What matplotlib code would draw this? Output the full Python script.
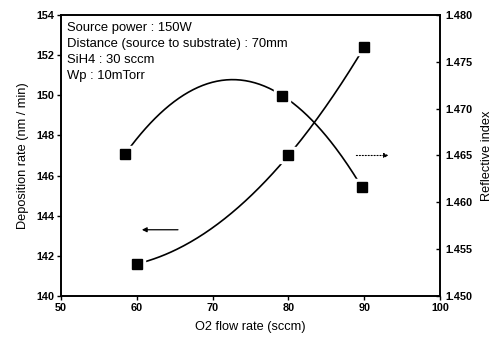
import matplotlib.pyplot as plt
import numpy as np

plt.rcParams['font.family'] = ['Liberation Sans', 'DejaVu Sans']

# deposition rate (left axis)
o2_dep = [60, 80, 90]
dep_rate = [141.6, 147.0, 152.4]

# reflective index (right axis)
o2_ri = [58.5, 79.2, 89.7]
ref_index = [1.4652, 1.4714, 1.4616]

notes = ["Source power : 150W",
         "Distance (source to substrate) : 70mm",
         "SiH4 : 30 sccm",
         "Wp : 10mTorr"]

fig = plt.figure(figsize=(4.99, 3.38), dpi=100)
ax = fig.add_axes([0.1222, 0.1243, 0.7596, 0.8313])
ax2 = ax.twinx()

def smooth(axis, xs, ys):
  # quadratic through the three points, like the origin spline
  c = np.polyfit(xs, ys, 2)
  xx = np.linspace(xs[0], xs[-1], 200)
  axis.plot(xx, np.polyval(c, xx), color='black', lw=1.2, zorder=2)
  axis.plot(xs, ys, 's', ms=11, color='white', mec='white', zorder=3)
  axis.plot(xs, ys, 's', ms=7.5, color='black', mec='black', zorder=4)

smooth(ax, o2_dep, dep_rate)
smooth(ax2, o2_ri, ref_index)

ax.set_xlim(50, 100)
ax.set_ylim(140, 154)
ax2.set_ylim(1.450, 1.480)
ax.set_xticks([50, 60, 70, 80, 90, 100])
ax.set_yticks(np.arange(140, 155, 2))
ax2.set_yticks([1.450, 1.455, 1.460, 1.465, 1.470, 1.475, 1.480])
ax2.set_yticklabels(['1.450', '1.455', '1.460', '1.465', '1.470', '1.475', '1.480'])

ax.tick_params(axis='both', direction='out', length=3, width=1, labelsize=7.8, pad=2)
ax2.tick_params(axis='y', direction='in', length=3, width=1, labelsize=7.8, pad=4)
for a in (ax, ax2):
  for s in a.spines.values():
    s.set_linewidth(1.2)
  for lab in a.get_xticklabels() + a.get_yticklabels():
    lab.set_fontweight('bold')

ax.set_xlabel('O2 flow rate (sccm)', fontsize=9.2, labelpad=6)
ax.set_ylabel('Deposition rate (nm / min)', fontsize=9.2, labelpad=5)
ax2.set_ylabel('Reflective index', fontsize=9.2, labelpad=6)

# direction arrows
ax.annotate('', xy=(60.3, 143.3), xytext=(65.8, 143.3),
            arrowprops=dict(arrowstyle='-|>', color='black', lw=0.9, mutation_scale=7))
ax2.annotate('', xy=(93.6, 1.4650), xytext=(88.6, 1.4650),
             arrowprops=dict(arrowstyle='-|>', color='black', lw=0.8, ls=':', mutation_scale=7))

for i, t in enumerate(notes):
  fig.text(67 / 499, 1 - (28 + 16 * i) / 338, t, fontsize=9.4, va='center', ha='left')

plt.savefig('out.png', dpi=100)
